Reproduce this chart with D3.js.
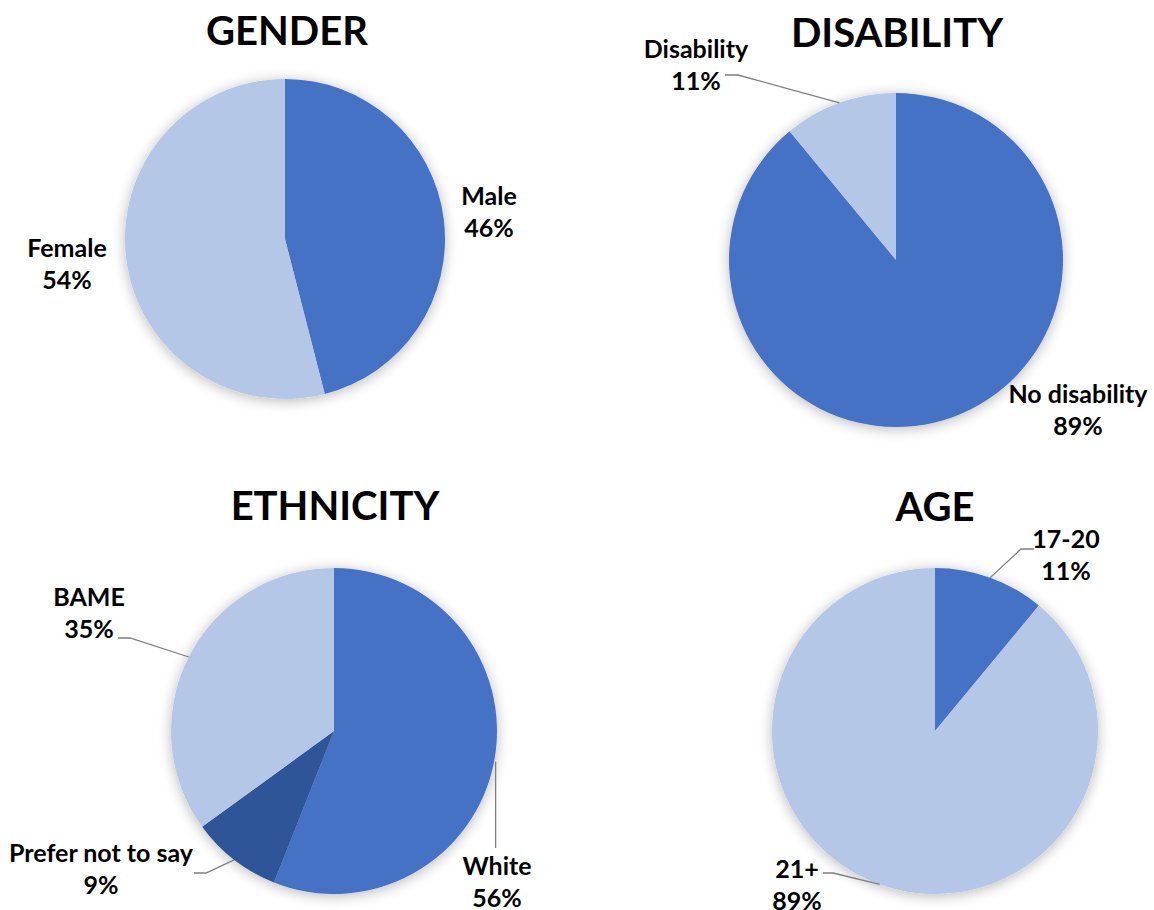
<!DOCTYPE html>
<html>
<head>
<meta charset="utf-8">
<script src="https://cdn.jsdelivr.net/npm/d3@7/dist/d3.min.js"></script>
<style>
  html, body { margin: 0; padding: 0; background: #ffffff; }
  svg { display: block; }
  text { font-family: Lato, "Open Sans", sans-serif; font-weight: 700; fill: #000; }
</style>
</head>
<body>
<svg id="chart" width="1154" height="910"></svg>
<script>
// ---- data ----
const genderCategories = ["Male", "Female"];
const genderValues = [46, 54];

const disabilityCategories = ["No disability", "Disability"];
const disabilityValues = [89, 11];

const ethnicityCategories = ["White", "Prefer not to say", "BAME"];
const ethnicityValues = [56, 9, 35];

const ageCategories = ["17-20", "21+"];
const ageValues = [11, 89];

const chartTitles = ["GENDER", "DISABILITY", "ETHNICITY", "AGE"];

// ---- styles ----
const BLUE = "#4472C4", LIGHT = "#B4C7E7", DARK = "#2F5597";

// ---- layout (positions only) ----
const panels = [
  { title: chartTitles[0], cats: genderCategories, vals: genderValues, colors: [BLUE, LIGHT],
    cx: 285, cy: 239, r: 160, tx: 287, ty: 45,
    labels: [ { x: 489, y: 205 }, { x: 67, y: 257 } ] },
  { title: chartTitles[1], cats: disabilityCategories, vals: disabilityValues, colors: [BLUE, LIGHT],
    cx: 896, cy: 260, r: 167, tx: 897, ty: 47,
    labels: [ { x: 1078, y: 403 }, { x: 696, y: 58, leader: [[725, 75], [738, 75]] } ] },
  { title: chartTitles[2], cats: ethnicityCategories, vals: ethnicityValues, colors: [BLUE, DARK, LIGHT],
    cx: 334, cy: 731, r: 163, tx: 335, ty: 520,
    labels: [ { x: 497, y: 875, vert: 848 },
              { x: 101, y: 862, leader: [[194, 873], [206, 873]] },
              { x: 89, y: 606, leader: [[118, 638], [130, 638]] } ] },
  { title: chartTitles[3], cats: ageCategories, vals: ageValues, colors: [BLUE, LIGHT],
    cx: 935, cy: 731, r: 163, tx: 935, ty: 521,
    labels: [ { x: 1066, y: 548, leader: [[1034, 549], [1021, 549]] },
              { x: 797, y: 878, leader: [[823, 873], [833, 873]] } ] }
];

const svg = d3.select("#chart");

const defs = svg.append("defs");
const f = defs.append("filter").attr("id", "shadow")
  .attr("x", "-20%").attr("y", "-20%").attr("width", "140%").attr("height", "140%");
f.append("feGaussianBlur").attr("in", "SourceAlpha").attr("stdDeviation", 7).attr("result", "blur");
f.append("feOffset").attr("in", "blur").attr("dx", 0).attr("dy", 2).attr("result", "off");
f.append("feComponentTransfer").attr("in", "off").attr("result", "soft")
  .append("feFuncA").attr("type", "linear").attr("slope", 0.28);
const merge = f.append("feMerge");
merge.append("feMergeNode").attr("in", "soft");
merge.append("feMergeNode").attr("in", "SourceGraphic");

const pie = d3.pie().sort(null).value(d => d);

panels.forEach(p => {
  const g = svg.append("g");
  const arcs = pie(p.vals);
  const arc = d3.arc().innerRadius(0).outerRadius(p.r);
  const edge = d3.arc().innerRadius(p.r).outerRadius(p.r);
  const color = d3.scaleOrdinal().domain(p.cats).range(p.colors);

  const pg = g.append("g").attr("transform", `translate(${p.cx},${p.cy})`).attr("filter", "url(#shadow)");
  pg.selectAll("path").data(arcs).join("path")
    .attr("d", arc)
    .attr("fill", (d, i) => color(p.cats[i]));

  // title
  g.append("text").attr("x", p.tx).attr("y", p.ty)
    .attr("text-anchor", "middle").attr("font-size", 40).text(p.title);

  // labels
  arcs.forEach((a, i) => {
    const L = p.labels[i];
    const [ex, ey] = edge.centroid(a);
    const ax = p.cx + ex, ay = p.cy + ey;
    if (L.leader) {
      const pts = L.leader.concat([[ax, ay]]);
      g.append("path").attr("d", d3.line()(pts))
        .attr("fill", "none").attr("stroke", "#7F7F7F").attr("stroke-width", 1.3);
    } else if (L.vert) {
      g.append("path").attr("d", d3.line()([[ax + 1.5, L.vert], [ax + 1.5, ay]]))
        .attr("fill", "none").attr("stroke", "#7F7F7F").attr("stroke-width", 1.3);
    }
    const t = g.append("text").attr("x", L.x).attr("y", L.y)
      .attr("text-anchor", "middle").attr("font-size", 25);
    t.append("tspan").attr("x", L.x).text(p.cats[i]);
    t.append("tspan").attr("x", L.x).attr("dy", 32).text(p.vals[i] + "%");
  });
});
</script>
</body>
</html>
